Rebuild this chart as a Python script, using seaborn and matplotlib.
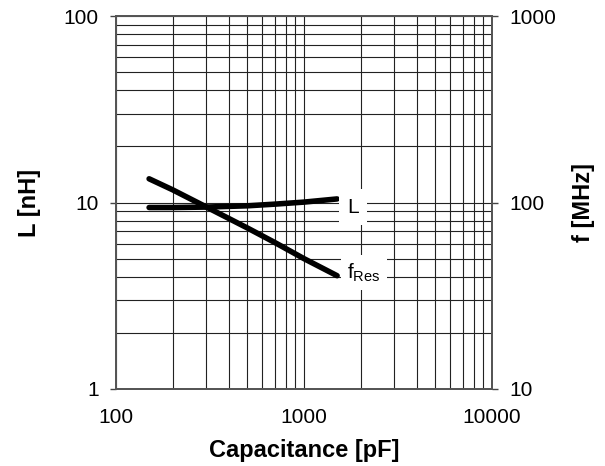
import matplotlib
matplotlib.use('Agg')
import matplotlib.pyplot as plt
import numpy as np
import pandas as pd
import seaborn as sns

# 데이터
capacitance = [150, 200, 300, 500, 700, 1000, 1500]      # pF
inductance = [9.4, 9.4, 9.45, 9.6, 9.8, 10.05, 10.45]     # nH
f_res = [134, 117, 95, 73, 61, 50, 40.5]                  # MHz

x_ticks = [100, 1000, 10000]
left_ticks = [1, 10, 100]
right_ticks = [10, 100, 1000]

sns.set_style('white')
plt.rcParams['font.family'] = ['Liberation Sans', 'DejaVu Sans']
plt.rcParams['mathtext.fontset'] = 'custom'
plt.rcParams['mathtext.rm'] = 'Liberation Sans'
plt.rcParams['mathtext.it'] = 'Liberation Sans'
plt.rcParams['text.color'] = 'black'
plt.rcParams['axes.labelcolor'] = 'black'
plt.rcParams['xtick.color'] = 'black'
plt.rcParams['ytick.color'] = 'black'

df = pd.DataFrame({'C': capacitance, 'L': inductance, 'f': f_res})

fig = plt.figure(figsize=(6.05, 4.66), dpi=100)
ax = fig.add_axes([116 / 605, 1 - 389 / 466, 376 / 605, 373 / 466])
ax.set_xscale('log')
ax.set_yscale('log')
ax.set_xlim(100, 10000)
ax.set_ylim(1, 100)

# 격자 (주/보조 모두)
ax.grid(True, which='both', color='#222222', linewidth=0.8, zorder=0)
ax.set_axisbelow(True)

sns.lineplot(data=df, x='C', y='L', ax=ax, color='black', linewidth=4,
             solid_capstyle='round', zorder=3)

ax2 = ax.twinx()
ax2.set_yscale('log')
ax2.set_ylim(10, 1000)
sns.lineplot(data=df, x='C', y='f', ax=ax2, color='black', linewidth=4,
             solid_capstyle='round', zorder=3)

# 곡선 라벨
ax.text(1830, 9.45, 'L', fontsize=15, ha='center', va='center', zorder=5,
        bbox=dict(facecolor='white', edgecolor='none', boxstyle='square,pad=0.4'))
ax2.text(2080, 42, r'f$_{\mathrm{Res}}$', fontsize=15, ha='center', va='center', zorder=5,
         bbox=dict(facecolor='white', edgecolor='none', boxstyle='square,pad=0.3'))

ax.set_xticks(x_ticks)
ax.set_xticklabels([str(t) for t in x_ticks])
ax.set_yticks(left_ticks)
ax.set_yticklabels([str(t) for t in left_ticks])
ax2.set_yticks(right_ticks)
ax2.set_yticklabels([str(t) for t in right_ticks])
ax.xaxis.set_minor_locator(matplotlib.ticker.LogLocator(base=10, subs=np.arange(2, 10)))
ax.yaxis.set_minor_locator(matplotlib.ticker.LogLocator(base=10, subs=np.arange(2, 10)))
ax.xaxis.set_minor_formatter(matplotlib.ticker.NullFormatter())
ax.yaxis.set_minor_formatter(matplotlib.ticker.NullFormatter())
ax2.yaxis.set_minor_formatter(matplotlib.ticker.NullFormatter())
ax.tick_params(which='minor', length=0)
ax2.tick_params(which='minor', length=0)

for a in (ax, ax2):
    a.tick_params(which='major', direction='out', length=4.5, width=1, color='#444444',
                  labelcolor='black', labelsize=15, pad=8)
    for sp in a.spines.values():
        sp.set_color('#555555')
        sp.set_linewidth(1.3)
ax.tick_params(axis='x', pad=9.5)

ax.set_xlabel('Capacitance [pF]', fontsize=17, fontweight='bold', labelpad=8)
ax.set_ylabel('L [nH]', fontsize=17, fontweight='bold', labelpad=16)
ax2.set_ylabel('f [MHz]', fontsize=17, fontweight='bold', labelpad=11)

fig.savefig('out.png', dpi=100)
